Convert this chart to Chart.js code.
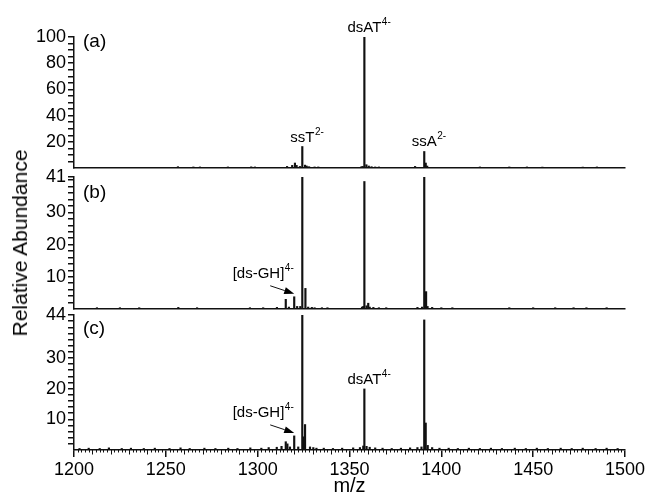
<!DOCTYPE html>
<html lang="en">
<head>
<meta charset="UTF-8" />
<title>Relative Abundance vs m/z</title>
<script src="https://cdn.jsdelivr.net/npm/chart.js"></script>
<style>
  body { margin: 0; background: #fff; }
  .wrap { position: relative; width: 647px; height: 494px; overflow: hidden; background: #fff; }
  canvas { position: absolute; left: 0; }
  #ylab {
    position: absolute; left: 20px; top: 243px;
    transform: translate(-50%, -50%) rotate(-90deg);
    font: 21px "Liberation Sans", Arial, sans-serif; color: #000; white-space: nowrap;
  }
</style>
</head>
<body>
<div class="wrap">
  <canvas id="panelA" width="647" height="185" style="top:0px"></canvas>
  <canvas id="panelB" width="647" height="165" style="top:158px"></canvas>
  <canvas id="panelC" width="647" height="194" style="top:300px"></canvas>
  <div id="ylab">Relative Abundance</div>
</div>
<script>
// ---- data (m/z, relative abundance %) ----
const mzA = [1256.6, 1265.0, 1268.6, 1283.8, 1296.5, 1298.5, 1316.0, 1318.8, 1320.3, 1321.2,
             1323.0, 1324.3, 1325.8, 1326.7, 1328.0, 1331.0, 1333.0, 1356.5, 1357.2, 1358.1,
             1359.2, 1360.5, 1362.0, 1364.0, 1366.0, 1385.7, 1390.7, 1391.5, 1392.3, 1421.0,
             1437.0, 1446.6, 1455.0, 1477.0, 1484.7];
const abA = [1.0, 0.8, 0.8, 0.8, 0.9, 0.8, 1.2, 2.0, 3.8, 2.0,
             1.2, 16.4, 2.2, 1.5, 1.0, 0.8, 0.8, 1.0, 1.2, 100,
             2.5, 1.5, 1.0, 0.8, 0.8, 1.2, 12.6, 3.8, 1.5, 0.8,
             0.8, 0.8, 0.7, 0.7, 0.8];

const mzB = [1212.5, 1225.0, 1235.5, 1256.8, 1267.0, 1295.8, 1303.0, 1310.5, 1315.3, 1317.0,
             1319.9, 1321.5, 1323.2, 1324.3, 1326.0, 1327.5, 1329.5, 1331.0, 1335.0, 1338.0,
             1356.8, 1357.5, 1358.1, 1359.3, 1360.2, 1361.0, 1363.0, 1366.0, 1370.0, 1387.0,
             1389.5, 1390.7, 1391.7, 1392.5, 1395.0, 1400.0, 1406.0, 1437.0, 1450.0, 1462.0,
             1472.0, 1479.0, 1490.0];
const abB = [0.4, 0.4, 0.4, 0.5, 0.4, 0.4, 0.4, 0.5, 3.0, 0.6,
             3.8, 0.8, 0.8, 41, 6.4, 0.6, 0.5, 0.4, 0.4, 0.4,
             0.6, 0.8, 39.6, 1.0, 1.8, 0.6, 0.5, 0.4, 0.4, 0.5,
             0.6, 41, 5.4, 0.8, 0.5, 0.4, 0.4, 0.4, 0.4, 0.4,
             0.4, 0.4, 0.4];

const mzC = [1203, 1208, 1214, 1219, 1226, 1231, 1238, 1244, 1252, 1258,
             1263, 1271, 1277, 1284, 1289, 1296, 1302, 1306, 1310.4, 1313,
             1315.3, 1316.2, 1317.6, 1319.9, 1322.1, 1324.3, 1325.0, 1325.8, 1328.5, 1330.3,
             1332, 1336, 1341, 1346, 1352, 1355.7, 1357.5, 1358.1, 1359.3, 1361,
             1364, 1368, 1373, 1378, 1383, 1387, 1389.2, 1390.7, 1391.5, 1392.6,
             1395, 1399, 1404, 1409, 1415, 1421, 1427, 1433, 1440, 1446,
             1452, 1458, 1465, 1471, 1477, 1484, 1490, 1496];
const abC = [0.5, 0.6, 0.5, 0.7, 0.5, 0.6, 0.5, 0.6, 0.5, 0.7,
             0.5, 0.6, 0.5, 0.6, 0.5, 0.7, 0.6, 0.8, 0.9, 1.2,
             2.7, 2.0, 1.0, 4.6, 1.0, 44, 4.3, 8.3, 1.0, 0.8,
             0.6, 0.6, 0.5, 0.6, 0.7, 0.8, 1.3, 19.9, 1.2, 0.9,
             0.7, 0.6, 0.5, 0.6, 0.7, 0.8, 1.0, 42.4, 8.8, 1.5,
             0.8, 0.6, 0.6, 0.5, 0.6, 0.5, 0.6, 0.5, 0.6, 0.5,
             0.6, 0.5, 0.6, 0.5, 0.6, 0.5, 0.6, 0.5];

// tick labels
const xLabels = [1200, 1250, 1300, 1350, 1400, 1450, 1500];
const yLabelsA = [20, 40, 60, 80, 100];
const yLabelsB = [10, 20, 30, 41];
const yLabelsC = [10, 20, 30, 44];

// peak annotations: [text, superscript, m/z]
const peakLabelsA = [['ssT', '2-', 1324.3], ['dsAT', '4-', 1358.1], ['ssA', '2-', 1390.7]];
const peakLabelsC = [['dsAT', '4-', 1358.1]];
const arrowLabelsB = [['[ds-GH]', '4-', 1319.9]];
const arrowLabelsC = [['[ds-GH]', '4-', 1319.9]];

const FONT = '"Liberation Sans", Arial, Helvetica, sans-serif';
const INK = '#111';

function range(a, b, step) {
  const out = [];
  for (let v = a; v <= b + 1e-9; v += step) out.push(v);
  return out;
}

const decorCfg = {
  panelA: { tag: '(a)', tagDy: 5, labels: peakLabelsA, arrows: [], minorX: false },
  panelB: { tag: '(b)', tagDy: 16, labels: [], arrows: arrowLabelsB, minorX: false },
  panelC: { tag: '(c)', tagDy: 14, labels: peakLabelsC, arrows: arrowLabelsC, minorX: true }
};

function drawTagged(ctx, base, sup, left, yBase) {
  ctx.font = '15px ' + FONT;
  const wb = ctx.measureText(base).width;
  ctx.fillText(base, left, yBase);
  ctx.font = '10px ' + FONT;
  ctx.fillText(sup, left + wb + 0.5, yBase - 7);
}

function tagWidths(ctx, base, sup) {
  ctx.font = '15px ' + FONT;
  const wb = ctx.measureText(base).width;
  ctx.font = '10px ' + FONT;
  const ws = ctx.measureText(sup).width;
  return [wb, ws];
}

const decor = {
  id: 'decor',
  afterDraw(chart) {
    const cfg = decorCfg[chart.canvas.id];
    const { ctx, chartArea, scales: { x, y } } = chart;
    const pts = chart.data.datasets[0].data;
    const peakY = mz => y.getPixelForValue(pts.find(p => p.x === mz).y);
    ctx.save();
    ctx.fillStyle = '#000';
    ctx.strokeStyle = INK;
    ctx.textAlign = 'left';

    // panel letter
    ctx.font = '19px ' + FONT;
    ctx.textBaseline = 'middle';
    ctx.fillText(cfg.tag, chartArea.left + 9, chartArea.top + cfg.tagDy);

    ctx.textBaseline = 'alphabetic';
    // labels centred over peaks
    cfg.labels.forEach(([base, sup, mz]) => {
      const px = x.getPixelForValue(mz);
      const [wb] = tagWidths(ctx, base, sup);
      drawTagged(ctx, base, sup, px - wb / 2, peakY(mz) - 5);
    });

    // labels with arrows
    cfg.arrows.forEach(([base, sup, mz]) => {
      const px = x.getPixelForValue(mz);
      const py = peakY(mz);
      const [wb, ws] = tagWidths(ctx, base, sup);
      drawTagged(ctx, base, sup, px - 1 - wb - ws, py - 19);
      const sx = px - 24, sy = py - 11, tx = px, ty = py - 3;
      const ang = Math.atan2(ty - sy, tx - sx);
      const hl = 10, hw = 3.5;
      const bx = tx - hl * Math.cos(ang), by = ty - hl * Math.sin(ang);
      ctx.lineWidth = 1;
      ctx.beginPath();
      ctx.moveTo(sx, sy);
      ctx.lineTo(bx, by);
      ctx.stroke();
      ctx.beginPath();
      ctx.moveTo(tx, ty);
      ctx.lineTo(bx + hw * Math.sin(ang), by - hw * Math.cos(ang));
      ctx.lineTo(bx - hw * Math.sin(ang), by + hw * Math.cos(ang));
      ctx.closePath();
      ctx.fill();
    });

    // minor x ticks (every 2, longer every 10)
    if (cfg.minorX) {
      ctx.lineWidth = 1;
      range(1202, 1498, 2).forEach(v => {
        if (v % 50 === 0) return;
        const len = v % 10 === 0 ? 4.5 : 2.5;
        const px = Math.round(x.getPixelForValue(v)) + 0.5;
        ctx.beginPath();
        ctx.moveTo(px, chartArea.bottom);
        ctx.lineTo(px, chartArea.bottom + len);
        ctx.stroke();
      });
    }
    ctx.restore();
  }
};

function makePanel(id, mz, ab, o) {
  const pts = mz.map((m, i) => ({ x: m, y: ab[i] }));
  return new Chart(document.getElementById(id), {
    type: 'bar',
    data: {
      datasets: [{
        data: pts,
        backgroundColor: INK,
        borderWidth: 0,
        barThickness: 1.5
      }]
    },
    options: {
      responsive: false,
      animation: false,
      devicePixelRatio: 1,
      layout: { autoPadding: false, padding: { top: o.padTop, bottom: o.padBottom, left: 0, right: 22 } },
      plugins: { legend: { display: false }, tooltip: { enabled: false } },
      scales: {
        x: {
          type: 'linear',
          min: 1200,
          max: 1500,
          offset: false,
          grid: { display: o.showX, drawOnChartArea: false, offset: false, tickLength: 7, color: INK, lineWidth: 1.5 },
          border: { color: INK, width: 1.5 },
          ticks: {
            display: o.showX, stepSize: 50, autoSkip: false, maxRotation: 0, padding: 2,
            color: '#000', font: { family: FONT, size: 18 },
            callback: v => (xLabels.includes(v) ? String(v) : '')
          },
          title: {
            display: o.showX, text: 'm/z', color: '#000',
            font: { family: FONT, size: 20, lineHeight: 0.8 }, padding: 0
          },
          afterFit: s => { s.height = o.showX ? 44 : 0; }
        },
        y: {
          min: 0,
          max: o.yMax,
          afterBuildTicks: s => { s.ticks = o.yTicks.map(v => ({ value: v })); },
          grid: { drawOnChartArea: false, tickLength: 6, color: INK, lineWidth: 1.5 },
          border: { color: INK, width: 1.5 },
          ticks: {
            autoSkip: false, padding: 2, color: '#000', font: { family: FONT, size: 18 },
            callback: v => (o.yLabels.includes(v) ? String(v) : '')
          },
          afterFit: s => { s.width = 74; }
        }
      }
    },
    plugins: [decor]
  });
}

makePanel('panelA', mzA, abA, {
  yMax: 100, yTicks: range(5, 100, 5), yLabels: yLabelsA,
  padTop: 37, padBottom: 17, showX: false
});
makePanel('panelB', mzB, abB, {
  yMax: 41, yTicks: range(2, 40, 2).concat([41]), yLabels: yLabelsB,
  padTop: 19, padBottom: 14, showX: false
});
makePanel('panelC', mzC, abC, {
  yMax: 44, yTicks: range(2, 42, 2).concat([44]), yLabels: yLabelsC,
  padTop: 15, padBottom: 0, showX: true
});
</script>
</body>
</html>
